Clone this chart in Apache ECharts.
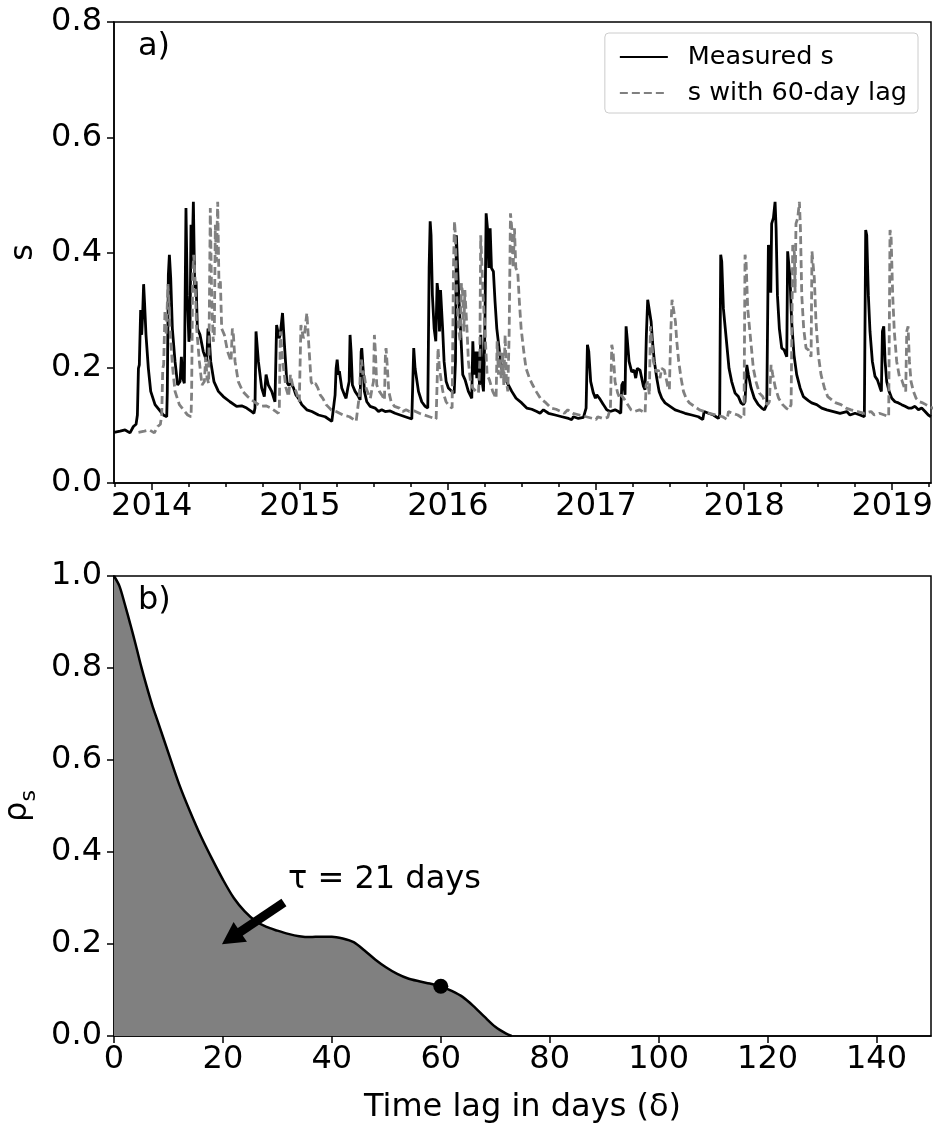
<!DOCTYPE html>
<html><head><meta charset="utf-8">
<script src="https://cdn.jsdelivr.net/npm/echarts@6/dist/echarts.min.js"></script>
<style>html,body{margin:0;padding:0;background:#fff}#c{width:936px;height:1126px}</style>
</head><body><div id="c"></div>
<script>
const FONT = 'DejaVu Sans';

// Panel a): measured s, x in decimal years
const measuredS = [
[2013.746,0.088],[2013.786,0.090],[2013.820,0.092],[2013.853,0.087],[2013.876,0.098],[2013.894,0.102],[2013.903,0.118],[2013.910,0.199],[2013.916,0.205],[2013.925,0.300],[2013.932,0.257],[2013.939,0.297],[2013.945,0.345],[2013.952,0.309],[2013.961,0.257],[2013.977,0.199],[2013.993,0.159],[2014.022,0.136],[2014.056,0.125],[2014.078,0.118],[2014.101,0.115],[2014.105,0.159],[2014.112,0.361],[2014.119,0.396],[2014.128,0.355],[2014.139,0.268],[2014.157,0.211],[2014.175,0.170],[2014.191,0.176],[2014.200,0.219],[2014.209,0.182],[2014.220,0.173],[2014.231,0.477],[2014.240,0.326],[2014.251,0.245],[2014.258,0.257],[2014.265,0.448],[2014.272,0.384],[2014.281,0.488],[2014.290,0.338],[2014.299,0.350],[2014.308,0.268],[2014.326,0.257],[2014.348,0.228],[2014.371,0.211],[2014.380,0.268],[2014.387,0.257],[2014.398,0.211],[2014.420,0.176],[2014.450,0.159],[2014.483,0.150],[2014.528,0.141],[2014.573,0.133],[2014.607,0.134],[2014.641,0.130],[2014.675,0.124],[2014.690,0.121],[2014.697,0.130],[2014.704,0.263],[2014.720,0.211],[2014.742,0.165],[2014.760,0.150],[2014.772,0.188],[2014.787,0.170],[2014.810,0.159],[2014.832,0.141],[2014.843,0.274],[2014.860,0.251],[2014.867,0.257],[2014.883,0.295],[2014.896,0.240],
[2014.912,0.176],[2014.923,0.170],[2014.941,0.173],[2014.957,0.165],[2014.973,0.153],[2014.991,0.147],[2015.013,0.136],[2015.047,0.127],[2015.081,0.124],[2015.126,0.118],[2015.171,0.115],[2015.216,0.107],[2015.227,0.110],[2015.238,0.153],[2015.245,0.199],[2015.252,0.214],[2015.261,0.188],[2015.267,0.194],[2015.276,0.191],[2015.283,0.165],[2015.301,0.153],[2015.312,0.147],[2015.324,0.165],[2015.333,0.176],[2015.339,0.257],[2015.346,0.228],[2015.355,0.170],[2015.373,0.159],[2015.396,0.150],[2015.407,0.144],[2015.414,0.228],[2015.418,0.234],[2015.427,0.199],[2015.436,0.159],[2015.452,0.141],[2015.475,0.133],[2015.508,0.130],[2015.531,0.124],[2015.553,0.127],[2015.576,0.124],[2015.610,0.125],[2015.643,0.121],[2015.677,0.118],[2015.711,0.115],[2015.756,0.111],[2015.763,0.114],[2015.769,0.234],[2015.778,0.199],[2015.801,0.159],[2015.823,0.141],[2015.846,0.133],[2015.864,0.130],[2015.873,0.373],[2015.880,0.454],[2015.886,0.430],[2015.895,0.326],[2015.907,0.268],[2015.918,0.246],[2015.927,0.347],[2015.936,0.326],[2015.943,0.263],[2015.950,0.335],[2015.959,0.332],[2015.965,0.263],[2015.974,0.211],[2015.988,0.176],
[2016.003,0.165],[2016.026,0.159],[2016.042,0.156],[2016.051,0.211],[2016.057,0.430],[2016.064,0.384],[2016.073,0.326],[2016.087,0.257],[2016.100,0.188],[2016.116,0.179],[2016.138,0.159],[2016.161,0.147],[2016.168,0.246],[2016.177,0.188],[2016.186,0.228],[2016.195,0.182],[2016.204,0.228],[2016.213,0.170],[2016.222,0.257],[2016.231,0.176],[2016.240,0.159],[2016.249,0.257],[2016.258,0.468],[2016.267,0.442],[2016.276,0.373],[2016.285,0.442],[2016.294,0.373],[2016.307,0.367],[2016.318,0.315],[2016.330,0.268],[2016.348,0.228],[2016.363,0.199],[2016.386,0.182],[2016.408,0.170],[2016.431,0.159],[2016.460,0.147],[2016.498,0.139],[2016.532,0.130],[2016.566,0.128],[2016.600,0.124],[2016.622,0.121],[2016.645,0.127],[2016.679,0.121],[2016.724,0.118],[2016.769,0.115],[2016.814,0.112],[2016.836,0.110],[2016.847,0.115],[2016.881,0.112],[2016.915,0.114],[2016.933,0.130],[2016.942,0.240],[2016.951,0.228],[2016.964,0.176],[2016.982,0.156],[2016.996,0.147],[2017.005,0.153],[2017.023,0.147],[2017.050,0.136],[2017.072,0.127],[2017.095,0.124],
[2017.106,0.127],[2017.129,0.127],[2017.151,0.124],[2017.167,0.121],[2017.174,0.170],[2017.185,0.176],[2017.196,0.153],[2017.203,0.272],[2017.212,0.246],[2017.223,0.211],[2017.241,0.193],[2017.257,0.196],[2017.268,0.182],[2017.279,0.199],[2017.297,0.196],[2017.309,0.193],[2017.320,0.168],[2017.331,0.162],[2017.340,0.257],[2017.349,0.318],[2017.360,0.315],[2017.372,0.280],[2017.381,0.246],[2017.394,0.211],[2017.410,0.182],[2017.426,0.159],[2017.444,0.147],[2017.466,0.139],[2017.500,0.133],[2017.534,0.127],[2017.567,0.124],[2017.601,0.121],[2017.646,0.118],[2017.691,0.115],[2017.721,0.110],[2017.730,0.124],[2017.759,0.121],[2017.793,0.118],[2017.826,0.112],[2017.835,0.118],[2017.842,0.396],[2017.849,0.384],[2017.860,0.303],[2017.871,0.300],[2017.883,0.240],[2017.898,0.199],[2017.916,0.176],[2017.939,0.156],[2017.961,0.150],[2017.979,0.139],[2017.995,0.136],[2018.006,0.141],[2018.018,0.205],[2018.029,0.188],[2018.047,0.165],[2018.069,0.147],[2018.096,0.136],[2018.119,0.130],[2018.137,0.127],[2018.153,0.136],
[2018.164,0.413],[2018.170,0.407],[2018.175,0.400],[2018.180,0.330],[2018.186,0.450],[2018.198,0.460],[2018.209,0.488],[2018.216,0.442],[2018.225,0.326],[2018.238,0.268],[2018.254,0.234],[2018.270,0.231],[2018.288,0.219],[2018.294,0.402],[2018.303,0.405],[2018.310,0.355],[2018.321,0.280],[2018.337,0.222],[2018.355,0.188],[2018.378,0.165],[2018.400,0.150],[2018.434,0.143],[2018.456,0.139],[2018.490,0.136],[2018.524,0.130],[2018.558,0.127],[2018.603,0.124],[2018.648,0.121],[2018.693,0.124],[2018.715,0.118],[2018.749,0.121],[2018.783,0.118],[2018.812,0.115],[2018.821,0.439],[2018.828,0.430],[2018.839,0.326],[2018.850,0.263],[2018.866,0.211],[2018.884,0.185],[2018.900,0.179],[2018.918,0.165],[2018.927,0.159],[2018.934,0.263],[2018.943,0.272],[2018.952,0.211],[2018.963,0.176],[2018.979,0.159],[2018.997,0.147],[2019.019,0.141],[2019.042,0.139],[2019.064,0.136],[2019.087,0.133],[2019.109,0.130],[2019.132,0.130],[2019.154,0.133],[2019.177,0.127],[2019.199,0.130],[2019.222,0.124],[2019.244,0.118],[2019.262,0.115]
];
const LAG_DAYS = 60;
const seriesNames = ['Measured s', 's with 60-day lag'];
const X_MIN = 2013.745, X_MAX = 2019.262;
const yearTicks = [2014, 2015, 2016, 2017, 2018, 2019];
const quarterTicks = [2013.75, 2014.25, 2014.5, 2014.75, 2015.25, 2015.5, 2015.75, 2016.25, 2016.5, 2016.75, 2017.25, 2017.5, 2017.75, 2018.25, 2018.5, 2018.75, 2019.25];

// Panel b): autocorrelation vs lag (days)
const autocorr = [
[0,1.0],[1,0.978],[2,0.938],[3,0.895],[4,0.85],[5,0.803],[6,0.76],[7,0.72],[8,0.685],[10,0.615],[12,0.546],[14,0.487],[16,0.433],[18,0.385],[20,0.34],[22,0.30],[24,0.271],[26,0.25],[28,0.237],[30,0.229],[32,0.222],[34,0.217],[36,0.215],[38,0.216],[40,0.216],[42,0.212],[44,0.204],[46,0.186],[48,0.166],[50,0.149],[52,0.135],[54,0.125],[56,0.119],[58,0.114],[60,0.108],[62,0.098],[64,0.085],[66,0.065],[68,0.042],[70,0.02],[72,0.005],[73,0]
];
const markedPoint = [60, 0.108];
const lagTicks = [0, 20, 40, 60, 80, 100, 120, 140];
const arrowStart = [31.2, 0.290];
const arrowEnd = [21.5, 0.213];
const tauText = 'τ = 21 days';

const lagged = measuredS.map(p => [p[0] + LAG_DAYS / 365.25, p[1]]);

const chart = echarts.init(document.getElementById('c'), null, {renderer: 'canvas', devicePixelRatio: 1});
const tick = (len) => ({show: true, length: len, inside: false, lineStyle: {color: '#000', width: 1.5}});
const lbl = {color: '#000', fontSize: 32, fontFamily: FONT};
const axLine = {show: true, lineStyle: {color: '#000', width: 1.5}};

const option = {
  animation: false,
  textStyle: {fontFamily: FONT},
  grid: [
    {left: 114, right: 5, top: 22, height: 461, show: true, borderColor: '#000', borderWidth: 1.5, containLabel: false, outerBoundsMode: 'none'},
    {left: 114, right: 5, top: 576, height: 460, show: true, borderColor: '#000', borderWidth: 1.5, containLabel: false, outerBoundsMode: 'none'}
  ],
  legend: {
    data: seriesNames, orient: 'vertical', right: 18, top: 33,
    itemWidth: 48, itemHeight: 14, itemGap: 10, padding: [11, 11, 7, 14],
    backgroundColor: 'rgba(255,255,255,0.8)', borderColor: '#cccccc', borderWidth: 1, borderRadius: 4,
    selectedMode: false,
    itemStyle: {color: 'rgba(0,0,0,0)', borderColor: 'rgba(0,0,0,0)', borderWidth: 0, opacity: 0},
    formatter: '{t|{name}}',
    textStyle: {color: '#000', fontSize: 25.5, fontFamily: FONT,
      rich: {t: {color: '#000', fontSize: 25.5, fontFamily: FONT, padding: [0, 0, 0, 15], lineHeight: 28}}}
  },
  xAxis: [
    {gridIndex: 0, type: 'value', position: 'bottom', min: X_MIN, max: X_MAX,
     axisLine: axLine, splitLine: {show: false},
     axisTick: Object.assign(tick(7), {customValues: yearTicks}),
     axisLabel: Object.assign({}, lbl, {customValues: yearTicks, margin: 8, formatter: v => String(Math.round(v))})},
    {gridIndex: 0, type: 'value', position: 'bottom', min: X_MIN, max: X_MAX,
     axisLine: {show: false}, splitLine: {show: false},
     axisTick: Object.assign(tick(4), {customValues: quarterTicks}),
     axisLabel: {show: false}},
    {gridIndex: 1, type: 'value', position: 'bottom', min: 0, max: 150,
     axisLine: axLine, splitLine: {show: false},
     axisTick: Object.assign(tick(7), {customValues: lagTicks}),
     axisLabel: Object.assign({}, lbl, {customValues: lagTicks, margin: 8}),
     name: 'Time lag in days (δ)', nameLocation: 'middle', nameGap: 56,
     nameTextStyle: {color: '#000', fontSize: 32, fontFamily: FONT}}
  ],
  yAxis: [
    {gridIndex: 0, type: 'value', min: 0, max: 0.8, interval: 0.2,
     axisLine: axLine, splitLine: {show: false}, axisTick: tick(7),
     axisLabel: Object.assign({}, lbl, {margin: 12, formatter: v => v.toFixed(1)}),
     name: 's', nameLocation: 'middle', nameGap: 74,
     nameTextStyle: {color: '#000', fontSize: 32, fontFamily: FONT}},
    {gridIndex: 1, type: 'value', min: 0, max: 1, interval: 0.2,
     axisLine: axLine, splitLine: {show: false}, axisTick: tick(7),
     axisLabel: Object.assign({}, lbl, {margin: 12, formatter: v => v.toFixed(1)}),
     name: '{r|ρ}{s|s}', nameLocation: 'middle', nameGap: 74,
     nameTextStyle: {color: '#000', fontSize: 32, fontFamily: FONT,
       rich: {r: {fontSize: 32, fontFamily: FONT, color: '#000', lineHeight: 44},
              s: {fontSize: 22, fontFamily: FONT, color: '#000', lineHeight: 22, verticalAlign: 'bottom'}}}}
  ],
  series: [
    {name: seriesNames[0], type: 'line', xAxisIndex: 0, yAxisIndex: 0, data: measuredS,
     symbol: 'none', lineStyle: {color: '#000', width: 2.8}, itemStyle: {color: '#000'}, z: 2},
    {name: seriesNames[1], type: 'line', xAxisIndex: 0, yAxisIndex: 0, data: lagged,
     symbol: 'none', lineStyle: {color: '#808080', width: 2.8, type: [8, 4]}, itemStyle: {color: '#808080'}, z: 3},
    {type: 'line', xAxisIndex: 2, yAxisIndex: 1, data: autocorr, smooth: 0.3, symbol: 'none',
     lineStyle: {color: '#000', width: 2.5}, areaStyle: {color: '#808080', opacity: 1}, z: 2},
    {type: 'scatter', xAxisIndex: 2, yAxisIndex: 1, data: [markedPoint], symbolSize: 15,
     itemStyle: {color: '#000', opacity: 1}, z: 4,
     markLine: {silent: true, symbol: ['none', 'triangle'], symbolSize: [24, 22],
       lineStyle: {color: '#000', width: 9, type: 'solid', opacity: 1}, label: {show: false},
       emphasis: {disabled: true},
       data: [[{coord: arrowStart}, {coord: arrowEnd}]]}}
  ],
  graphic: [
    {type: 'text', x: 138, y: 47, style: {text: 'a)', fontSize: 32, fontFamily: FONT, fill: '#000', align: 'left', verticalAlign: 'middle'}},
    {type: 'text', x: 138, y: 601, style: {text: 'b)', fontSize: 32, fontFamily: FONT, fill: '#000', align: 'left', verticalAlign: 'middle'}},
    {type: 'text', x: 288, y: 880, style: {text: tauText, fontSize: 32, fontFamily: FONT, fill: '#000', align: 'left', verticalAlign: 'middle'}}
  ]
};
chart.setOption(option);
</script>
</body></html>
